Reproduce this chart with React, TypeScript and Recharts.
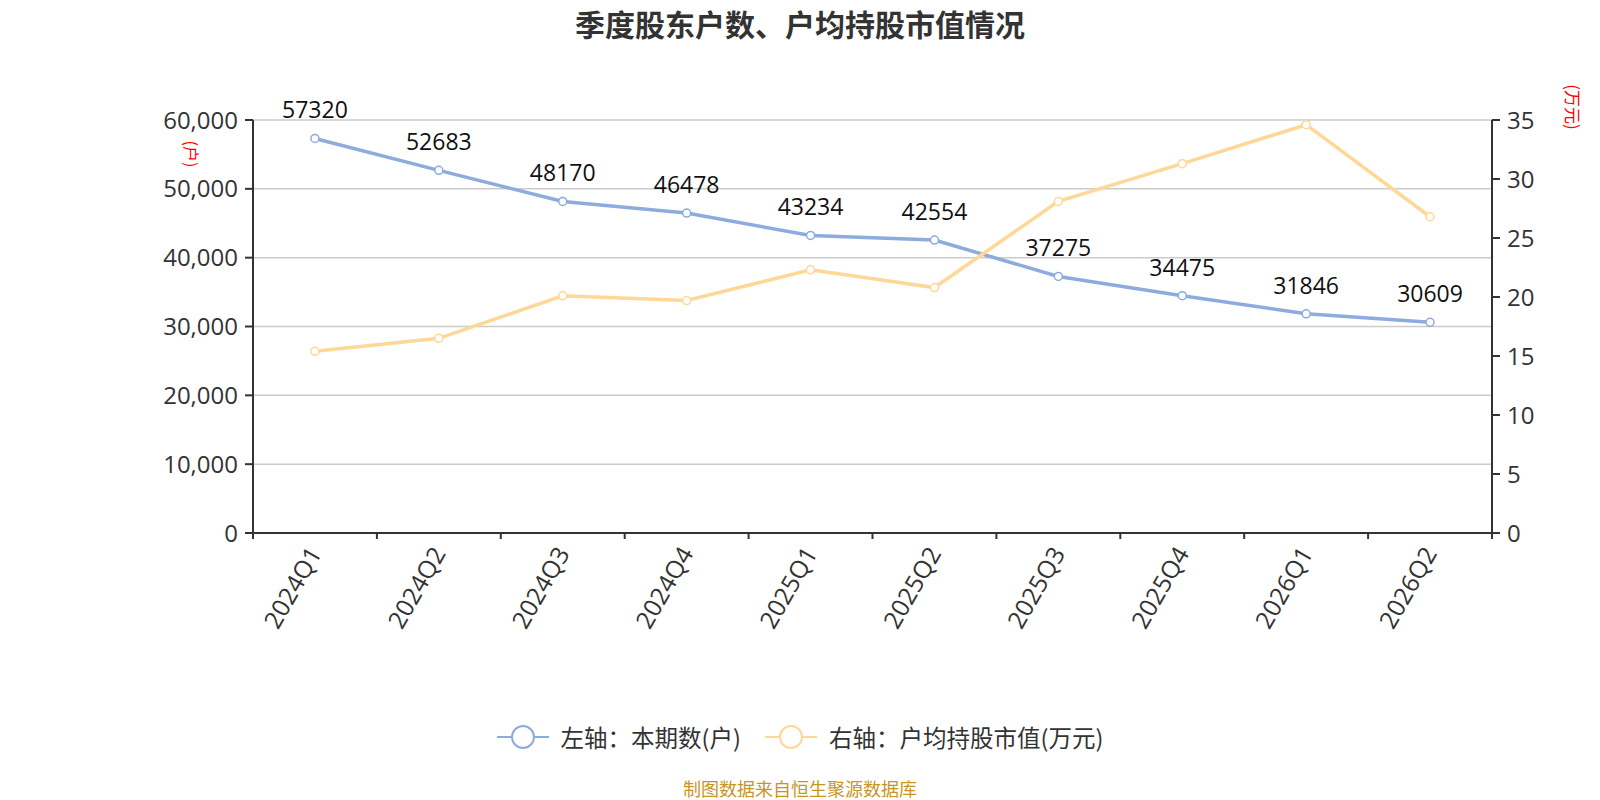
import {
  LineChart,
  Line,
  XAxis,
  YAxis,
  CartesianGrid,
  LabelList,
} from "recharts";

const quarters = [
  "2024Q1",
  "2024Q2",
  "2024Q3",
  "2024Q4",
  "2025Q1",
  "2025Q2",
  "2025Q3",
  "2025Q4",
  "2026Q1",
  "2026Q2",
];
const holders = [57320, 52683, 48170, 46478, 43234, 42554, 37275, 34475, 31846, 30609];
const avgValue = [15.4, 16.5, 20.1, 19.7, 22.3, 20.8, 28.1, 31.3, 34.6, 26.8];
const leftTicks = [0, 10000, 20000, 30000, 40000, 50000, 60000];
const rightTicks = [0, 5, 10, 15, 20, 25, 30, 35];

const data = quarters.map((q, i) => ({ q, holders: holders[i], avg: avgValue[i] }));

const W = 1600;
const H = 800;
const PLOT_LEFT = 253;
const PLOT_RIGHT = 1492;
const PLOT_TOP = 120;
const PLOT_BOTTOM = 533;
const BAND = (PLOT_RIGHT - PLOT_LEFT) / quarters.length;
const FONT = '"Noto Sans CJK SC", "Noto Sans", sans-serif';
const NUM_FONT = '"Open Sans", "Noto Sans CJK SC", sans-serif';
const BLUE = "#8dabdd";
const ORANGE = "#ffd897";
const AXIS = "#333";

function XTick({ x, y, payload, index }: any) {
  const top = y - 12;
  return (
    <g>
      <line x1={x - BAND / 2} x2={x - BAND / 2} y1={top} y2={top + 6} stroke={AXIS} strokeWidth={2} />
      {index === quarters.length - 1 && (
        <line x1={x + BAND / 2} x2={x + BAND / 2} y1={top} y2={top + 6} stroke={AXIS} strokeWidth={2} />
      )}
      <text
        x={x + 2}
        y={y + 5}
        transform={`rotate(-60, ${x + 2}, ${y + 5})`}
        textAnchor="end"
        dominantBaseline="middle"
        fontSize={24.5}
        fill="#333"
        fontFamily={NUM_FONT}
      >
        {payload.value}
      </text>
    </g>
  );
}

function LeftName({ viewBox }: any) {
  const x = viewBox.x + 46;
  const y = viewBox.y + 34;
  return (
    <text
      x={x}
      y={y}
      transform={`rotate(90, ${x}, ${y})`}
      textAnchor="middle"
      dominantBaseline="middle"
      fontSize={16}
      fill="#ff0000"
      fontFamily={FONT}
    >
      (户)
    </text>
  );
}

function RightName({ viewBox }: any) {
  const x = viewBox.x + 79;
  const y = viewBox.y - 13;
  return (
    <text
      x={x}
      y={y}
      transform={`rotate(90, ${x}, ${y})`}
      textAnchor="middle"
      dominantBaseline="middle"
      fontSize={17}
      fill="#ff0000"
      fontFamily={FONT}
    >
      (万元)
    </text>
  );
}

function LegendIcon({ color }: { color: string }) {
  return (
    <svg width={52} height={26} style={{ verticalAlign: "middle" }}>
      <line x1={0} x2={52} y1={13} y2={13} stroke={color} strokeWidth={2} />
      <circle cx={26} cy={13} r={11} fill="#fff" stroke={color} strokeWidth={2} />
    </svg>
  );
}

export default function App() {
  return (
    <div
      style={{
        position: "absolute",
        left: 0,
        top: 0,
        width: W,
        height: H,
        background: "#fff",
        fontFamily: FONT,
      }}
    >
      <div
        style={{
          position: "absolute",
          top: 3,
          width: W,
          textAlign: "center",
          fontSize: 30,
          fontWeight: "bold",
          color: "#333",
          lineHeight: "40px",
        }}
      >
        季度股东户数、户均持股市值情况
      </div>
      <LineChart
        width={W}
        height={H}
        data={data}
        margin={{ top: PLOT_TOP, left: PLOT_LEFT - 110, right: W - PLOT_RIGHT - 80, bottom: H - PLOT_BOTTOM - 130 }}
      >
        <CartesianGrid vertical={false} stroke="#cccccc" strokeWidth={1.5} yAxisId="left" />
        <XAxis
          dataKey="q"
          height={130}
          interval={0}
          padding={{ left: BAND / 2, right: BAND / 2 }}
          tick={<XTick />}
          tickLine={false}
          tickSize={6}
          tickMargin={6}
          axisLine={{ stroke: AXIS, strokeWidth: 2 }}
        />
        <YAxis
          yAxisId="left"
          width={110}
          domain={[0, 60000]}
          ticks={leftTicks}
          tickFormatter={(v) => v.toLocaleString("en-US")}
          tick={{ fill: "#333", fontSize: 24, fontFamily: NUM_FONT }}
          tickSize={8}
          tickMargin={7}
          tickLine={{ stroke: AXIS, strokeWidth: 2 }}
          axisLine={{ stroke: AXIS, strokeWidth: 2 }}
          label={<LeftName />}
        />
        <YAxis
          yAxisId="right"
          orientation="right"
          width={80}
          domain={[0, 35]}
          ticks={rightTicks}
          tick={{ fill: "#333", fontSize: 24, fontFamily: NUM_FONT, textAnchor: "start" }}
          tickSize={8}
          tickMargin={7}
          tickLine={{ stroke: AXIS, strokeWidth: 2 }}
          axisLine={{ stroke: AXIS, strokeWidth: 2 }}
          label={<RightName />}
        />
        <Line
          yAxisId="left"
          type="linear"
          dataKey="holders"
          stroke={BLUE}
          strokeWidth={3.5}
          dot={{ r: 4, fill: "#fff", stroke: BLUE, strokeWidth: 1.5 }}
          isAnimationActive={false}
        >
          <LabelList dataKey="holders" position="top" offset={20} fontSize={23} fill="#111" fontFamily={NUM_FONT} />
        </Line>
        <Line
          yAxisId="right"
          type="linear"
          dataKey="avg"
          stroke={ORANGE}
          strokeWidth={3.5}
          dot={{ r: 4, fill: "#fff", stroke: ORANGE, strokeWidth: 1.5 }}
          isAnimationActive={false}
        />
      </LineChart>
      <div
        style={{
          position: "absolute",
          top: 720,
          width: W,
          display: "flex",
          justifyContent: "center",
          alignItems: "center",
          fontSize: 23.5,
          color: "#333",
        }}
      >
        <LegendIcon color={BLUE} />
        <span style={{ marginLeft: 12, marginRight: 24 }}>左轴：本期数(户)</span>
        <LegendIcon color={ORANGE} />
        <span style={{ marginLeft: 12 }}>右轴：户均持股市值(万元)</span>
      </div>
      <div
        style={{
          position: "absolute",
          top: 777,
          width: W,
          textAlign: "center",
          fontSize: 18,
          color: "#c8961e",
          lineHeight: "22px",
        }}
      >
        制图数据来自恒生聚源数据库
      </div>
    </div>
  );
}
